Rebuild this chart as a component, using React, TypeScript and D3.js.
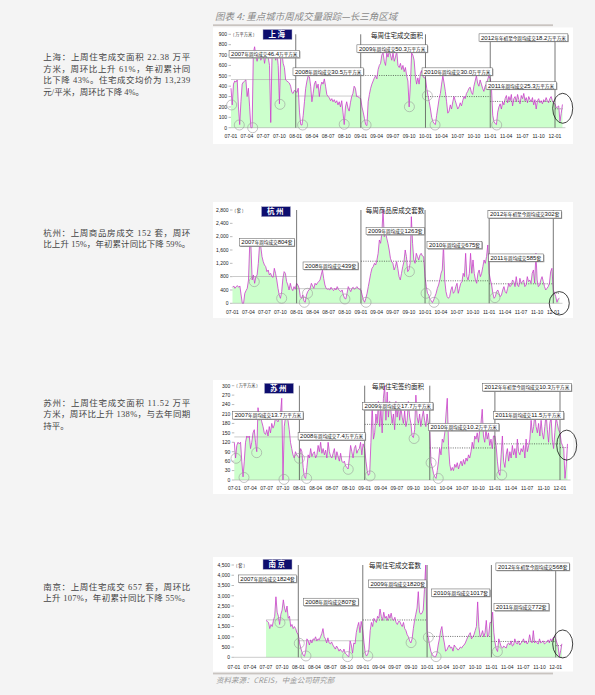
import React from "react";
import * as d3 from "d3";

// ---------- shared ----------
const years = [2007, 2008, 2009, 2010, 2011, 2012];
const quarterMonths = [0, 3, 6, 9];

// ---------- 上海: weekly residential area ----------
const shanghai2007 = [380,220,420,450,440,460,200,30,250,420, 440,450,460,300,380,200,0,0,720,780, 700,640,700,720,650,680,720,620,700,740, 680,600,50,680,720,700,650,720,600,230, 680,720,620,580,460,450,440,430,400,340, 330,360];
const shanghai2008 = [350,340,380,150,30,25,120,250,380,450, 500,490,400,250,330,420,450,380,420,300, 400,440,420,470,400,320,300,290,260,280, 250,270,240,260,220,250,200,260,150,30, 200,250,190,160,240,300,330,400,380,300, 300,290];
const shanghai2009 = [280,200,150,90,30,20,250,320,380,420, 450,480,500,470,560,600,620,700,720,640, 600,720,680,740,700,650,720,640,680,740, 600,580,620,560,600, 540,580,500,450,200,420,720,700,650,500,420,480,420,520,550,500,480];
const shanghai2010 = [480,380,310,250,180,100,60,40,30,120, 200,280,330,420,500,430,350,250,140,160, 220,180,250,300,260,220,180,200,240,210, 260,300,280,330,350,380,390,340,320,400, 450,500,430,400,460,420,380,350,400,420, 460,500];
const shanghai2011 = [470,380,120,60,40,30,150,200,230,180, 250,220,280,310,240,300,260,320,210,280, 300,250,320,270,230,310,280,330,260,290, 240,300,270,250,290,220,270,180,260,280, 240,260,230,270,250,290,260,240,280,300, 260,240];
const shanghai2012 = [230,190,200,210,60,139,224];
const shanghaiAvg = [464, 305, 503, 300, 253, 182];
const shanghaiNotes = ["2007年周均成交46.4万平方米", "2008年周均成交30.5万平方米", "2009年周均成交50.3万平方米", "2010年周均成交30.0万平方米", "2011年周均成交25.3万平方米", "2012年年初至今周均成交18.2万平方米"];
const shanghaiCircles = [[2007.01,219],[2007.128,26],[2007.335,0],[2007.756,225],[2008.106,26],[2008.748,33],[2009.083,26],[2009.752,202],[2010.029,308],[2010.148,26],[2011.10,26]];
const shanghaiEllipse = [2012.119, 187];
const shanghaiText = ["上海：上周住宅成交面积 22.38 万平", "方米，周环比上升 61%，年初累计同", "比下降 43%。住宅成交均价为 13,239", "元/平米，周环比下降 4%。"];

// ---------- 杭州: weekly commodity housing units ----------
const hangzhou2007 = [480,520,450,500,530,480,520,250,0,0, 300,380,450,700,1750,1700,700,850,600,800, 850,1200,1750,1700,1400,1250,1150,1100,950,1000, 850,900,800,780,1050,900,700,450,250,150, 350,750,950,900,650,550,400,600,450,380, 500,420];
const hangzhou2008 = [600,550,450,200,150,250,60,30,250,350, 400,450,600,520,450,600,550,620,650,700, 850,1000,750,550,450,420,430,400,480,420, 380,450,400,500,420,380,350,400,250,150, 130,300,500,420,350,450,480,420,460,500, 450,420];
const hangzhou2009 = [400,250,100,30,150,300,500,700,900,1050, 1100,1200,1150,1300,1500,1900,1800,2100,2800,2000, 2150,1950,1800,1600,1350,1250,1200,1000,1100,1250, 1050,800,700,900,1100,1250,1600,1400,950,1000, 1200,2600,1800,1300,1200,1500,1400,1300,1450,1500, 1420,1400];
const hangzhou2010 = [800,500,300,250,120,80,20,100,200,300, 450,550,700,900,1000,1750,700,350,200,150, 200,400,500,300,350,500,600,300,450,600, 650,900,800,1500,800,700,900,1500,900,1300, 900,700,600,900,1000,800,900,1100,1300,1200, 1400,1750];
const hangzhou2011 = [900,700,550,300,150,200,350,400,300,200, 250,400,500,350,300,450,600,500,550,700, 650,500,800,550,500,750,600,650,700,500, 550,800,650,700,600,900,1000,600,1500,700, 500,550,700,800,650,500,400,450,500,600, 950,1050];
const hangzhou2012 = [400,300,200,30,132,152];
const hangzhouAvg = [804, 439, 1263, 675, 585, 302];
const hangzhouNotes = ["2007年周均成交804套", "2008年周均成交439套", "2009年周均成交1263套", "2010年周均成交675套", "2011年周均成交585套", "2012年年初至今周均成交302套"];
const hangzhouCircles = [[2007.34,650],[2007.767,150],[2008.12,30],[2008.17,300],[2008.753,130],[2009.08,30],[2009.756,950],[2010.016,300],[2010.14,30],[2011.09,170]];
const hangzhouEllipse = [2012.093, 0];
const hangzhouText = ["杭州：上周商品房成交 152 套，周环", "比上升 15%，年初累计同比下降 59%。"];

// ---------- 苏州: weekly residential contracted area ----------
const suzhou2007 = [120,70,110,120,115,120,60,10,60,120, 140,135,140,100,120,150,160,120,90,230, 190,200,185,170,150,145,160,140,170,150, 180,165,175,200,190,185,200,210,260,0, 170,200,210,190,160,120,100,80,70,90, 80,75];
const suzhou2008 = [70,100,90,40,10,5,40,80,70,100, 75,85,90,70,80,110,90,120,85,100, 80,95,70,120,90,75,70,85,100,65, 90,75,60,85,60,55,60,45,40,35,70,110, 90,70,100,110,85,95,100,120,80,115];
const suzhou2009 = [100,60,30,15,20,120,240,130,150,210, 180,250,170,230,150,260,300,190,280,200, 250,220,180,210,160,250,200,240,190,230, 200,180,220,170,190,250,200,180,140,135, 160,270,200,180,210,170,200,220,190,170, 210,180];
const suzhou2010 = [150,55,40,20,10,5,30,60,100,80, 130,120,150,210,260,110,50,30,40,30, 50,40,55,35,50,60,45,65,50,70, 60,80,70,90,120,100,140,130,150,120, 160,180,225,140,120,160,130,150,110,130, 100,140];
const suzhou2011 = [140,110,60,25,15,80,140,60,40,80, 100,60,90,70,110,80,100,70,130,90, 80,100,90,110,70,130,90,110,130,190, 150,170,210,170,150,180,140,190,150,130, 170,210,160,120,180,200,130,100,150,200, 180,160];
const suzhou2012 = [150,120,110,100,5,48,115];
const suzhouAvg = [137, 74, 177, 102, 115, 103];
const suzhouNotes = ["2007年周均成交13.7万平方米", "2008年周均成交7.4万平方米", "2009年周均成交17.7万平方米", "2010年周均成交10.2万平方米", "2011年周均成交11.5万平方米", "2012年年初至今周均成交10.3万平方米"];
const suzhouCircles = [[2007.026,69],[2007.149,8],[2007.344,87],[2007.763,2],[2008.0,69],[2008.111,5],[2008.75,34],[2009.083,13],[2009.759,132],[2010.02,55],[2010.13,5],[2011.105,16]];
const suzhouEllipse = [2012.103, 111];
const suzhouText = ["苏州：上周住宅成交面积 11.52 万平", "方米，周环比上升 138%，与去年同期", "持平。"];

// ---------- 南京: weekly residential units ----------
const nanjing2007 = [1800,1750,1700,1400,1600,1500,1800,2000,2950,2200, 2000,1600,2100,2300,2800,2400,2200,2500,1900,2000, 1500,1600,1400,1500,1400,1200];
const nanjing2008 = [1100,700,450,250,100,50,300,900,800,600, 850,700,900,850,1000,800,900,850,1000,1150, 1400,1000,900,700,950,700,650,750,600,500, 400,550,450,300,400,300,250,400,200,150, 60,30,800,600,200,700,650,1200,1500,1700, 1200,1750];
const nanjing2009 = [1300,700,200,60,150,400,1300,1700,1500,1900, 1800,1700,2000,1900,2350,2000,1800,2200,1900,2000, 1800,2100,1900,2150,1850,1800,1950,1700,1600,1750, 1750,1600,1500,1700,1400,1300,1100,1000,800,700, 900,1400,1800,2100,2400,3200,2200,2100,2150,2300, 3300,4500];
const nanjing2010 = [1300,950,600,300,150,60,30,30,200,600, 900,1300,1500,1000,700,300,350,500,600,450, 500,300,600,500,450,350,400,500,450,550, 600,700,850,1000,1100,1200,900,1000,1100,1300, 1500,2700,1500,1000,1100,1300,1000,1200,1800,1000, 1100,1700];
const nanjing2011 = [1700,2200,1200,700,400,280,900,700,500,450, 550,500,450,650,700,600,800,550,600,900, 700,650,800,600,700,750,900,700,800,650, 750,1100,800,700,1300,700,800,700,650,900, 700,750,800,650,700,750,850,700,900,800, 950,1000];
const nanjing2012 = [900,700,500,30,317,657];
const nanjingAvg = [1824, 807, 1820, 1017, 772, 568];
const nanjingNotes = ["2007年周均成交1824套", "2008年周均成交807套", "2009年周均成交1820套", "2010年周均成交1017套", "2011年周均成交772套", "2012年年初至今周均成交568套"];
const nanjingCircles = [[2007.715,1690],[2008.015,683],[2008.119,65],[2008.767,33],[2009.078,65],[2009.751,715],[2010.02,975],[2010.14,33],[2011.093,276]];
const nanjingEllipse = [2012.109, 650];
const nanjingText = ["南京：上周住宅成交 657 套，周环比", "上升 107%，年初累计同比下降 55%。"];

// ---------- panel definitions (layout separate from data) ----------
const PANELS = [
  {
    city: "上海", unit: "( 万平方米 )", title: "每周住宅成交面积",
    series: [shanghai2007, shanghai2008, shanghai2009, shanghai2010, shanghai2011, shanghai2012], firstWeek: 0,
    avgs: shanghaiAvg, notes: shanghaiNotes, circles: shanghaiCircles, ellipse: shanghaiEllipse, text: shanghaiText,
    yMax: 900, yStep: 100,
    L: { box: [213, 27.5, 573, 144], x0: 231, x12: 555, yB: 127.7, yT: 34.3, xLabY: 137.5, cityX: 263, cityY: 29.5, titleX: 397, titleY: 37.5,
      noteAt: [[2006.97,710],[2007.957,541],[2008.944,763],[2009.947,541],[2010.935,407],[2010.827,869]],
      textY: [60, 71.7, 83.4, 95.1], justify: [true, true, true, false], er: [10, 15] },
  },
  {
    city: "杭州", unit: "( 套 )", title: "每周商品房成交套数",
    series: [hangzhou2007, hangzhou2008, hangzhou2009, hangzhou2010, hangzhou2011, hangzhou2012], firstWeek: 0,
    avgs: hangzhouAvg, notes: hangzhouNotes, circles: hangzhouCircles, ellipse: hangzhouEllipse, text: hangzhouText,
    yMax: 2800, yStep: 400,
    L: { box: [213, 202, 573, 318], x0: 232.5, x12: 553.3, yB: 303.3, yT: 210, xLabY: 313.5, cityX: 261.5, cityY: 206.7, titleX: 395, titleY: 212.5,
      noteAt: [[2007.106,1830],[2008.10,1130],[2009.08,2170],[2010.03,1750],[2010.99,1370],[2010.98,2670]],
      textY: [235.7, 247.4], justify: [true, true], er: [10, 11.7] },
  },
  {
    city: "苏州", unit: "( 万平方米 )", title: "每周住宅签约面积",
    series: [suzhou2007, suzhou2008, suzhou2009, suzhou2010, suzhou2011, suzhou2012], firstWeek: 0,
    avgs: suzhouAvg, notes: suzhouNotes, circles: suzhouCircles, ellipse: suzhouEllipse, text: suzhouText,
    yMax: 300, yStep: 30,
    L: { box: [213, 380, 573, 494], x0: 234.3, x12: 560, yB: 480, yT: 385.7, xLabY: 489.5, cityX: 264.5, cityY: 383.3, titleX: 398, titleY: 388.5,
      noteAt: [[2006.975,205.6],[2007.98,139],[2008.97,235],[2009.98,168.5],[2010.976,205.6],[2010.81,294.7]],
      textY: [405.5, 417.2, 428.9], justify: [true, true, false], er: [10, 15] },
  },
  {
    city: "南京", unit: "( 套 )", title: "每周住宅成交套数",
    series: [nanjing2007, nanjing2008, nanjing2009, nanjing2010, nanjing2011, nanjing2012], firstWeek: 26,
    avgs: nanjingAvg, notes: nanjingNotes, circles: nanjingCircles, ellipse: nanjingEllipse, text: nanjingText,
    yMax: 4500, yStep: 500,
    L: { box: [213, 557, 573, 671.5], x0: 234, x12: 555.7, yB: 657.3, yT: 565, xLabY: 669.2, cityX: 263, cityY: 559.3, titleX: 395, titleY: 567.5,
      noteAt: [[2007.067,3835],[2008.077,2700],[2009.088,3591],[2010.07,3152],[2011.04,2454],[2011.07,4420]],
      textY: [589.5, 601.2], justify: [true, true], er: [10, 14] },
  },
];

const CJK = "'Noto Sans CJK SC', sans-serif";
const SANS = "'Liberation Sans', Arial, sans-serif";
const SERIF = "'Liberation Serif', 'Noto Sans CJK SC', serif";

function decYear(t: number) {
  const y = Math.floor(t);
  const start = new Date(y, 0, 1).getTime();
  return new Date(start + (t - y) * 365 * 86400000);
}

const isCJK = (c: string) => /[\u3000-\u9fff\uff00-\uffef]/.test(c);
const CJK_FS = 4.6;
const LAT_FS = 6;
function noteWidth(s: string) {
  let w = 0;
  for (const c of s) {
    if (isCJK(c)) w += CJK_FS;
    else if (c === ".") w += LAT_FS * 0.278;
    else w += LAT_FS * 0.556;
  }
  return w + 4;
}

function Note({ x, y, s }: { x: number; y: number; s: string }) {
  const w = noteWidth(s);
  const h = 7.4;
  const runs = s.match(/[\u3000-\u9fff\uff00-\uffef]+|[^\u3000-\u9fff\uff00-\uffef]+/g) || [];
  return (
    <g>
      <rect x={x + 0.9} y={y - h / 2 + 0.9} width={w} height={h} fill="#9a9a9a" />
      <rect x={x} y={y - h / 2} width={w} height={h} fill="#fff" stroke="#555" strokeWidth={0.5} />
      <text x={x + 2} y={y + 2.1} fill="#111">
        {runs.map((r, i) => (
          <tspan key={i} fontFamily={isCJK(r[0]) ? CJK : SANS} fontSize={isCJK(r[0]) ? CJK_FS : LAT_FS}>{r}</tspan>
        ))}
      </text>
    </g>
  );
}

function Panel({ p }: { p: any }) {
  const L = p.L;
  const x = d3.scaleTime().domain([new Date(2007, 0, 1), new Date(2012, 0, 1)]).range([L.x0, L.x12]);
  const y = d3.scaleLinear().domain([0, p.yMax]).range([L.yB, L.yT]);
  const pts: { d: Date; v: number }[] = [];
  p.series.forEach((arr: number[], k: number) => {
    const off = k === 0 ? p.firstWeek : 0;
    arr.forEach((v, i) => pts.push({ d: new Date(years[k], 0, 1 + 7 * (i + off)), v }));
  });
  const lastDate = pts[pts.length - 1].d;
  const line = d3.line<any>().x((d) => x(d.d)).y((d) => y(d.v));
  const area = d3.area<any>().x((d) => x(d.d)).y0(y(0)).y1((d) => y(d.v));
  const yTicks = d3.range(0, p.yMax + 1, p.yStep);
  const xTicks: Date[] = [];
  years.forEach((yr) => quarterMonths.forEach((m) => { if (yr < 2012 || m === 0) xTicks.push(new Date(yr, m, 1)); }));
  const fmtX = d3.timeFormat("%y-%m");
  const fmtY = d3.format(",");
  const axisEnd = x(lastDate) + 3;
  const [bx0, by0, bx1, by1] = L.box;

  return (
    <g>
      <rect x={bx0} y={by0} width={bx1 - bx0} height={by1 - by0} fill="#fff" />
      {/* area + data line */}
      <path d={area(pts) || ""} fill="#ccffcc" />
      {/* yearly averages */}
      {p.avgs.map((a: number, k: number) => {
        const xs = k === 0 ? x(pts[0].d) : x(new Date(years[k], 0, 1));
        const xe = k < 5 ? x(new Date(years[k] + 1, 0, 1)) : x(lastDate);
        return (
          <line key={k} x1={xs} x2={xe} y1={y(a)} y2={y(a)}
            stroke={k < 2 ? "#a8a8a8" : "#333"} strokeWidth={k < 2 ? 0.6 : 0.7}
            strokeDasharray={k < 2 ? undefined : "1 1.3"} />
        );
      })}
      <path d={line(pts) || ""} fill="none" stroke="#cc3ccc" strokeWidth={0.8} strokeLinejoin="round" />
      {/* baseline */}
      <line x1={L.x0} x2={axisEnd} y1={y(0)} y2={y(0)} stroke="#999" strokeWidth={0.5} />
      {/* year separators */}
      {years.slice(1).map((yr) => (
        <line key={yr} x1={x(new Date(yr, 0, 1))} x2={x(new Date(yr, 0, 1))} y1={y(0)} y2={y(p.yMax)} stroke="#555" strokeWidth={0.8} />
      ))}
      {/* y axis */}
      {yTicks.map((t) => (
        <g key={t}>
          <line x1={L.x0 - 2.5} x2={L.x0} y1={y(t)} y2={y(t)} stroke="#777" strokeWidth={0.5} />
          <text x={L.x0 - 4} y={y(t) + 1.8} textAnchor="end" fontSize={5} fontFamily={SANS} fill="#222">{fmtY(t)}</text>
        </g>
      ))}
      {/* x axis labels */}
      {xTicks.map((t, i) => (
        <text key={i} x={x(t)} y={L.xLabY} textAnchor="middle" fontSize={5} fontFamily={SANS} fill="#222">{fmtX(t)}</text>
      ))}
      {/* unit */}
      <text x={L.x0 + 2} y={y(p.yMax) + 1.6} fontSize={4.2} fontFamily={CJK} fill="#333">{p.unit}</text>
      {/* circles */}
      {p.circles.map((c: number[], i: number) => (
        <circle key={i} cx={x(decYear(c[0]))} cy={y(c[1])} r={5} fill="none" stroke="#9a9a9a" strokeWidth={0.6} />
      ))}
      <ellipse cx={x(decYear(p.ellipse[0]))} cy={y(p.ellipse[1])} rx={L.er[0]} ry={L.er[1]} fill="none" stroke="#111" strokeWidth={0.8} />
      {/* notes */}
      {p.notes.map((s: string, i: number) => (
        <Note key={i} x={x(decYear(L.noteAt[i][0]))} y={y(L.noteAt[i][1])} s={s} />
      ))}
      {/* city tag */}
      <rect x={L.cityX} y={L.cityY} width={29} height={10} fill="#0d0d6e" stroke="#b0b0c8" strokeWidth={0.5} />
      <text x={L.cityX + 14.5} y={L.cityY + 7.6} textAnchor="middle" fontSize={7.5} fontWeight={700} fontFamily={CJK} fill="#fff" letterSpacing={1.5}>{p.city}</text>
      {/* title */}
      <text x={L.titleX} y={L.titleY} textAnchor="middle" fontSize={6.5} fontFamily={CJK} fill="#222">{p.title}</text>
      {/* left description */}
      {p.text.map((s: string, i: number) => (
        <text key={i} x={43.3} y={L.textY[i]} fontSize={8.5} fontFamily={SERIF} fill="#444"
          textLength={L.justify[i] ? 147 : undefined} lengthAdjust="spacing">{s}</text>
      ))}
    </g>
  );
}

export default function App() {
  return (
    <svg width={595} height={695} style={{ position: "absolute", left: 0, top: 0 }}>
      <rect x={0} y={0} width={595} height={695} fill="#f4f4f4" />
      <text x={215} y={20} fontSize={9.5} fontStyle="italic" fontFamily={CJK} fill="#8a8a8a">图表 4:  重点城市周成交量跟踪—长三角区域</text>
      <rect x={213} y={24.3} width={340} height={1.8} fill="#c9c4c0" />
      {PANELS.map((p, i) => <Panel key={i} p={p} />)}
      <rect x={213} y={672.6} width={340} height={1.8} fill="#c9c4c0" />
      <text x={216} y={682.5} fontSize={7.5} fontStyle="italic" fontFamily={CJK} fill="#9a9a9a">资料来源：CREIS，中金公司研究部</text>
    </svg>
  );
}
